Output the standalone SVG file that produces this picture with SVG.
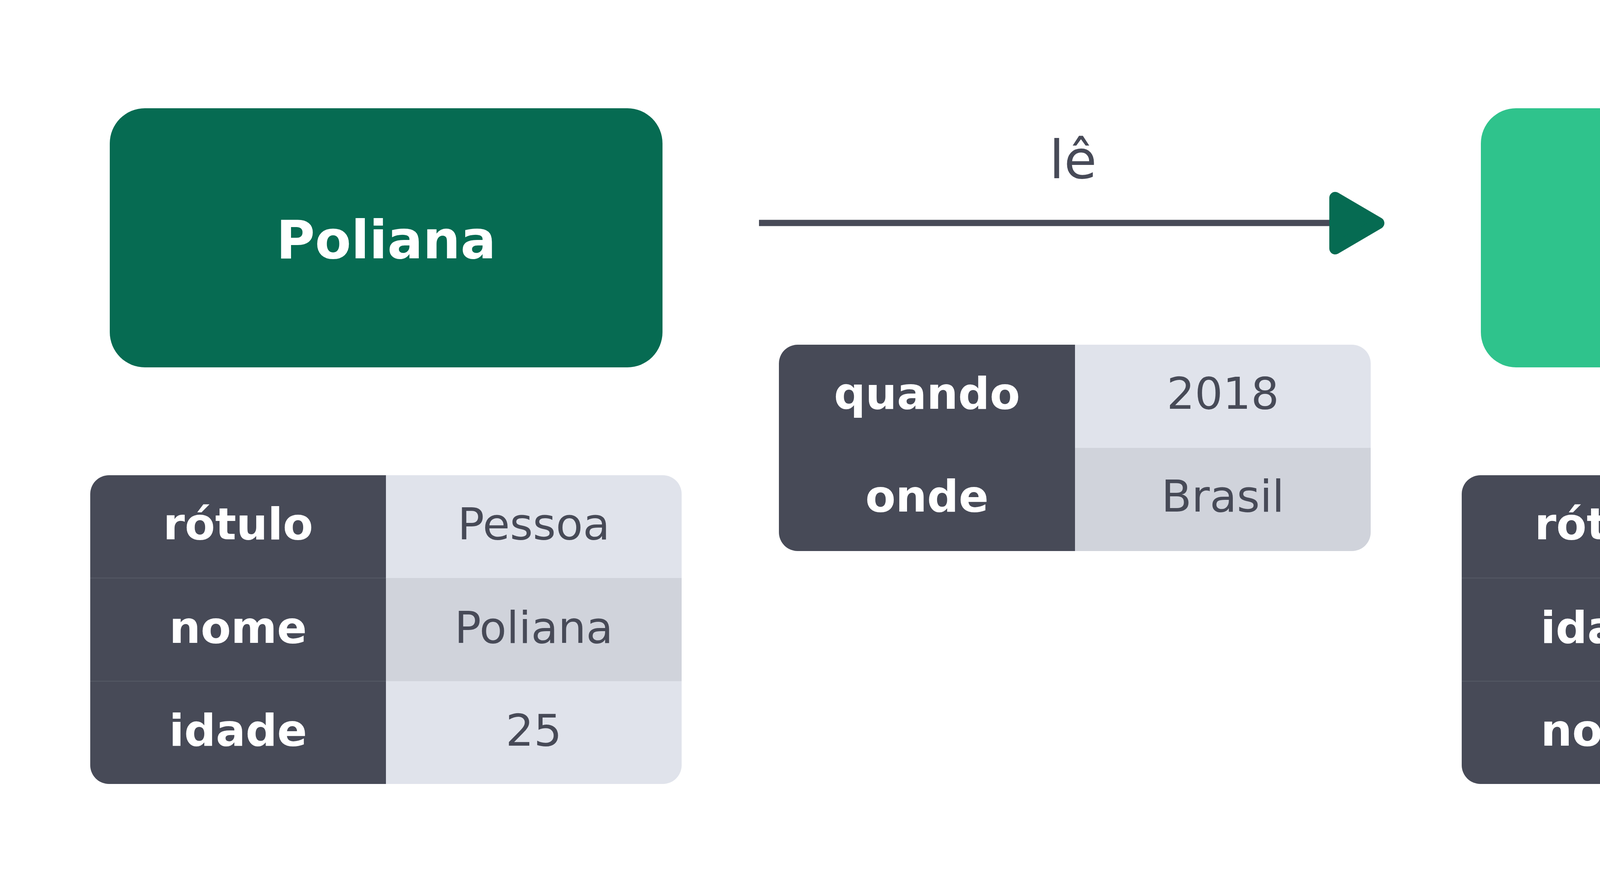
<svg xmlns="http://www.w3.org/2000/svg" width="5487" height="2285" viewBox="0 0 5487 2285">
<style>
.title{font-family:"DejaVu Sans",Verdana,sans-serif;font-weight:bold;font-size:135px;fill:#ffffff;text-anchor:middle}
.key{font-family:"DejaVu Sans",Verdana,sans-serif;font-weight:bold;font-size:113px;fill:#ffffff;text-anchor:middle}
.val{font-family:"DejaVu Sans",Verdana,sans-serif;font-size:113px;fill:#474a57;text-anchor:middle}
.lbl{font-family:"DejaVu Sans",Verdana,sans-serif;font-size:136px;fill:#474a57;text-anchor:middle}
.dark{fill:#474a57}
.light{fill:#e0e3eb}
.mid{fill:#d0d3db}
.seam{stroke:#565a66;stroke-width:2}
</style>
<defs>
<clipPath id="cL"><rect x="231" y="1216" width="1514" height="790" rx="48"/></clipPath>
<clipPath id="cM"><rect x="1994" y="882" width="1515" height="528" rx="48"/></clipPath>
<clipPath id="cR"><rect x="3742" y="1216" width="1514" height="790" rx="48"/></clipPath>
</defs>
<rect width="5487" height="2285" fill="#ffffff"/>
<g id="connectors">
<line x1="1943" y1="570.5" x2="3410" y2="570.5" stroke="#474a57" stroke-width="16"/>
<path d="M3418 506 L3529 571 L3418 636 Z" fill="#066b52" stroke="#066b52" stroke-width="30" stroke-linejoin="round"/>
<text class="lbl" x="2747" y="456">lê</text>
</g>
<g id="node-poliana">
<rect x="281" y="277" width="1415" height="663" rx="90" fill="#066b52"/>
<text class="title" x="988.5" y="661">Poliana</text>
</g>
<g id="node-acabana">
<rect x="3791" y="277" width="1416" height="663" rx="90" fill="#2fc38c"/>
<text class="title" x="4499" y="661">A Cabana</text>
</g>
<g id="props-poliana" clip-path="url(#cL)">
<rect class="dark" x="231" y="1216" width="757" height="790"/>
<rect class="light" x="988" y="1216" width="757" height="263"/>
<rect class="mid" x="988" y="1479" width="757" height="264"/>
<rect class="light" x="988" y="1743" width="757" height="263"/>
<line class="seam" x1="231" y1="1479" x2="988" y2="1479"/>
<line class="seam" x1="231" y1="1743" x2="988" y2="1743"/>
<text class="key" x="609.5" y="1380">rótulo</text>
<text class="val" x="1366.5" y="1380">Pessoa</text>
<text class="key" x="609.5" y="1645">nome</text>
<text class="val" x="1366.5" y="1645">Poliana</text>
<text class="key" x="609.5" y="1908">idade</text>
<text class="val" x="1366.5" y="1908">25</text>
</g>
<g id="props-le" clip-path="url(#cM)">
<rect class="dark" x="1994" y="882" width="758" height="528"/>
<rect class="light" x="2752" y="882" width="757" height="264"/>
<rect class="mid" x="2752" y="1146" width="757" height="264"/>
<text class="key" x="2373" y="1046">quando</text>
<text class="val" x="3130.5" y="1046">2018</text>
<text class="key" x="2373" y="1309">onde</text>
<text class="val" x="3130.5" y="1309">Brasil</text>
</g>
<g id="props-acabana" clip-path="url(#cR)">
<rect class="dark" x="3742" y="1216" width="757" height="790"/>
<rect class="light" x="4499" y="1216" width="757" height="263"/>
<rect class="mid" x="4499" y="1479" width="757" height="264"/>
<rect class="light" x="4499" y="1743" width="757" height="263"/>
<line class="seam" x1="3742" y1="1479" x2="4499" y2="1479"/>
<line class="seam" x1="3742" y1="1743" x2="4499" y2="1743"/>
<text class="key" x="4120.5" y="1380">rótulo</text>
<text class="val" x="4877.5" y="1380">Livro</text>
<text class="key" x="4120.5" y="1645">idade</text>
<text class="val" x="4877.5" y="1645">2007</text>
<text class="key" x="4120.5" y="1908">nome</text>
<text class="val" x="4877.5" y="1908">A Cabana</text>
</g>
</svg>
